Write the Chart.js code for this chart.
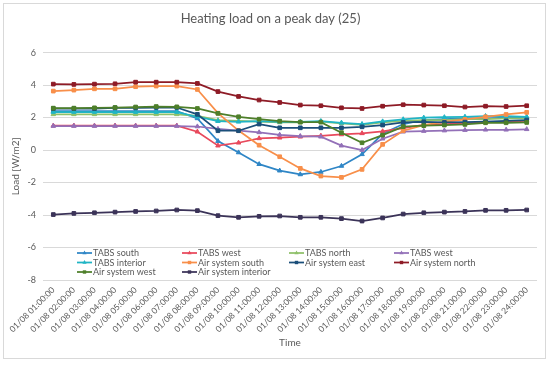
<!DOCTYPE html>
<html>
<head>
<meta charset="utf-8">
<script src="https://cdn.jsdelivr.net/npm/chart.js@4.4.0/dist/chart.umd.min.js"></script>
<style>
  html, body { margin: 0; padding: 0; background: #fff; }
  #wrap { position: relative; width: 550px; height: 365px; }
  #frame { position: absolute; left: 3px; top: 3px; width: 541px; height: 354px; border: 1px solid #d9d9d9; }
  canvas { position: absolute; left: 0; top: 0; }
</style>
</head>
<body>
<div id="wrap"><div id="frame"></div><canvas id="chart" width="550" height="365"></canvas></div>
<script>
// categorías del eje x
const timeLabels = [
  '01/08 01:00:00', '01/08 02:00:00', '01/08 03:00:00', '01/08 04:00:00',
  '01/08 05:00:00', '01/08 06:00:00', '01/08 07:00:00', '01/08 08:00:00',
  '01/08 09:00:00', '01/08 10:00:00', '01/08 11:00:00', '01/08 12:00:00',
  '01/08 13:00:00', '01/08 14:00:00', '01/08 15:00:00', '01/08 16:00:00',
  '01/08 17:00:00', '01/08 18:00:00', '01/08 19:00:00', '01/08 20:00:00',
  '01/08 21:00:00', '01/08 22:00:00', '01/08 23:00:00', '01/08 24:00:00'
];

const seriesNames = [
  'TABS south', 'TABS west', 'TABS north', 'TABS west',
  'TABS interior', 'Air system south', 'Air system east', 'Air system north',
  'Air system west', 'Air system interior'
];

// valores en W/m2
const tabsSouth = [2.4, 2.4, 2.4, 2.4, 2.4, 2.4, 2.4, 1.95, 0.55, -0.15, -0.87, -1.27, -1.5, -1.35, -0.98, -0.26, 1.0, 1.6, 1.85, 1.9, 1.95, 1.95, 2.0, 2.0];
const tabsWest1 = [1.5, 1.5, 1.5, 1.5, 1.5, 1.5, 1.5, 1.13, 0.27, 0.45, 0.72, 0.76, 0.82, 0.88, 0.96, 1.03, 1.15, 1.35, 1.55, 1.6, 1.65, 1.7, 1.75, 1.8];
const tabsNorth = [2.2, 2.2, 2.2, 2.2, 2.2, 2.2, 2.2, 2.1, 1.85, 1.8, 1.75, 1.7, 1.7, 1.75, 1.65, 1.55, 1.7, 1.8, 1.85, 1.85, 1.9, 1.9, 1.95, 1.95];
const tabsWest2 = [1.48, 1.48, 1.48, 1.48, 1.48, 1.48, 1.48, 1.45, 1.3, 1.19, 1.09, 0.94, 0.86, 0.82, 0.27, 0.0, 0.7, 1.13, 1.17, 1.2, 1.23, 1.25, 1.25, 1.28];
const tabsInterior = [2.34, 2.34, 2.34, 2.34, 2.34, 2.34, 2.34, 2.05, 1.78, 1.74, 1.78, 1.74, 1.74, 1.78, 1.68, 1.6, 1.76, 1.89, 1.99, 2.02, 2.05, 2.09, 2.09, 2.05];
const airSouth = [3.63, 3.69, 3.77, 3.77, 3.9, 3.94, 3.94, 3.73, 2.27, 1.2, 0.3, -0.41, -1.13, -1.6, -1.68, -1.19, 0.35, 1.19, 1.54, 1.74, 1.89, 2.05, 2.19, 2.32];
const airEast = [2.55, 2.55, 2.55, 2.6, 2.6, 2.62, 2.62, 2.2, 1.19, 1.19, 1.6, 1.37, 1.37, 1.37, 1.37, 1.43, 1.54, 1.7, 1.74, 1.7, 1.72, 1.75, 1.8, 1.85];
const airNorth = [4.06, 4.04, 4.06, 4.08, 4.18, 4.18, 4.18, 4.1, 3.6, 3.3, 3.08, 2.93, 2.77, 2.73, 2.6, 2.56, 2.7, 2.79, 2.77, 2.73, 2.65, 2.7, 2.68, 2.73];
const airWest = [2.58, 2.58, 2.6, 2.62, 2.65, 2.68, 2.66, 2.56, 2.26, 2.05, 1.9, 1.78, 1.72, 1.72, 1.07, 0.45, 0.92, 1.44, 1.5, 1.54, 1.58, 1.68, 1.68, 1.7];
const airInterior = [-3.97, -3.9, -3.86, -3.82, -3.78, -3.75, -3.69, -3.73, -4.04, -4.14, -4.08, -4.06, -4.14, -4.14, -4.22, -4.37, -4.18, -3.94, -3.86, -3.82, -3.78, -3.71, -3.71, -3.69];

const seriesValues = [tabsSouth, tabsWest1, tabsNorth, tabsWest2, tabsInterior, airSouth, airEast, airNorth, airWest, airInterior];
const seriesColors = ['#2f86c6', '#e8495c', '#8fc16a', '#9370b8', '#20b5c5', '#f88f4a', '#1b4f7a', '#8e1b26', '#4e7f2a', '#3b3358'];

const FONT = 'Lato, "Open Sans", sans-serif';
const TEXT = '#595959';

const datasets = seriesValues.map((values, i) => ({
  label: seriesNames[i],
  data: values,
  borderColor: seriesColors[i],
  backgroundColor: seriesColors[i],
  borderWidth: 1.75,
  pointStyle: i < 5 ? 'triangle' : 'rect',
  pointRadius: i < 5 ? 2.6 : 2.6,
  pointBorderWidth: 1,
  tension: 0,
  fill: false,
  order: -i, // las series posteriores se pintan encima, como en Excel
}));

// leyenda dibujada a mano sobre el área del gráfico
const legendPlugin = {
  id: 'excelLegend',
  afterDraw(chart) {
    const ctx = chart.ctx;
    const colsX = [93, 198, 305, 410];
    const rowsY = [253, 262.5, 272];
    ctx.save();
    ctx.font = '9px ' + FONT;
    ctx.textBaseline = 'middle';
    ctx.textAlign = 'left';
    chart.data.datasets.forEach((ds, i) => {
      const tx = colsX[i % 4];
      const ty = rowsY[Math.floor(i / 4)];
      const x0 = tx - 16;
      ctx.strokeStyle = ds.borderColor;
      ctx.lineWidth = 1.75;
      ctx.beginPath();
      ctx.moveTo(x0, ty);
      ctx.lineTo(tx - 1, ty);
      ctx.stroke();
      ctx.fillStyle = ds.borderColor;
      Chart.helpers.drawPoint(ctx, { pointStyle: ds.pointStyle, radius: 2.4, borderWidth: 0 }, x0 + 7.5, ty);
      ctx.fillStyle = TEXT;
      ctx.fillText(ds.label, tx, ty + 0.5);
    });
    ctx.restore();
  }
};

new Chart(document.getElementById('chart'), {
  type: 'line',
  data: {
    labels: timeLabels,
    datasets: datasets,
  },
  options: {
    responsive: false,
    animation: false,
    layout: {
      padding: { left: 4, right: 13, top: 0, bottom: 8 },
    },
    plugins: {
      legend: { display: false },
      tooltip: { enabled: false },
      title: {
        display: true,
        text: 'Heating load on a peak day (25)',
        color: TEXT,
        font: { family: FONT, size: 13, weight: 'normal' },
        padding: { top: 11, bottom: 26 },
      },
    },
    scales: {
      x: {
        offset: true,
        grid: { display: false, drawTicks: false },
        border: { display: false },
        ticks: {
          color: TEXT,
          font: { family: FONT, size: 8.5 },
          minRotation: 45,
          maxRotation: 45,
          autoSkip: false,
          padding: 5,
        },
        title: {
          display: true,
          text: 'Time',
          color: TEXT,
          font: { family: FONT, size: 10 },
          padding: { top: 2, bottom: 8 },
        },
        afterFit(scale) { scale.height = 77; },
      },
      y: {
        min: -8,
        max: 6,
        grid: { color: '#d9d9d9', drawTicks: false },
        border: { display: false },
        ticks: {
          stepSize: 2,
          color: TEXT,
          font: { family: FONT, size: 9 },
          padding: 7,
        },
        title: {
          display: true,
          text: 'Load [W/m2]',
          color: TEXT,
          font: { family: FONT, size: 10 },
          padding: { top: 6, bottom: 0 },
        },
        afterFit(scale) { scale.width = 39; },
      },
    },
  },
  plugins: [legendPlugin],
});
</script>
</body>
</html>
